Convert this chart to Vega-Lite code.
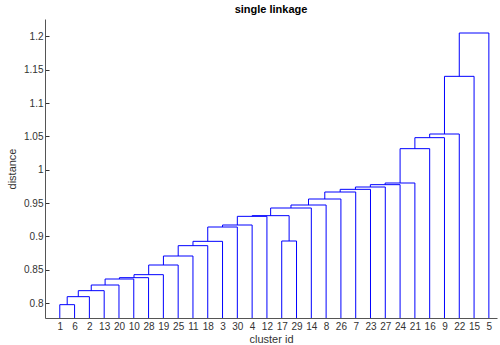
{
  "$schema": "https://vega.github.io/schema/vega-lite/v6.json",
  "autosize": "none",
  "width": 452,
  "height": 299,
  "padding": {"left": 45, "top": 19, "right": 3, "bottom": 27},
  "background": "white",
  "title": {"text": "single linkage", "fontSize": 11, "fontWeight": "bold", "font": "Liberation Sans", "color": "#000000", "offset": 4, "anchor": "middle"},
  "config": {"view": {"stroke": null}},
  "data": {"values": [
    {"node": "A", "xl": 1, "xr": 2, "h": 0.7975, "hl": 0.7, "hr": 0.7},
    {"node": "B", "xl": 1.5, "xr": 3, "h": 0.8095, "hl": 0.7975, "hr": 0.7},
    {"node": "C", "xl": 2.25, "xr": 4, "h": 0.8185, "hl": 0.8095, "hr": 0.7},
    {"node": "D", "xl": 3.125, "xr": 5, "h": 0.827, "hl": 0.8185, "hr": 0.7},
    {"node": "E", "xl": 4.0625, "xr": 6, "h": 0.836, "hl": 0.827, "hr": 0.7},
    {"node": "F", "xl": 5.03, "xr": 7, "h": 0.838, "hl": 0.836, "hr": 0.7},
    {"node": "G", "xl": 6.016, "xr": 8, "h": 0.8425, "hl": 0.838, "hr": 0.7},
    {"node": "H", "xl": 7.008, "xr": 9, "h": 0.857, "hl": 0.8425, "hr": 0.7},
    {"node": "I", "xl": 8.004, "xr": 10, "h": 0.8705, "hl": 0.857, "hr": 0.7},
    {"node": "J", "xl": 9.002, "xr": 11, "h": 0.886, "hl": 0.8705, "hr": 0.7},
    {"node": "K", "xl": 10.001, "xr": 12, "h": 0.8925, "hl": 0.886, "hr": 0.7},
    {"node": "L", "xl": 11.0, "xr": 13, "h": 0.914, "hl": 0.8925, "hr": 0.7},
    {"node": "M", "xl": 12.0, "xr": 14, "h": 0.917, "hl": 0.914, "hr": 0.7},
    {"node": "N", "xl": 13.0, "xr": 15, "h": 0.930, "hl": 0.917, "hr": 0.7},
    {"node": "P", "xl": 16, "xr": 17, "h": 0.893, "hl": 0.7, "hr": 0.7},
    {"node": "Q", "xl": 14.0, "xr": 16.5, "h": 0.931, "hl": 0.930, "hr": 0.893},
    {"node": "R", "xl": 15.25, "xr": 18, "h": 0.9425, "hl": 0.931, "hr": 0.7},
    {"node": "S", "xl": 16.625, "xr": 19, "h": 0.947, "hl": 0.9425, "hr": 0.7},
    {"node": "T", "xl": 17.81, "xr": 20, "h": 0.956, "hl": 0.947, "hr": 0.7},
    {"node": "U", "xl": 18.91, "xr": 21, "h": 0.9665, "hl": 0.956, "hr": 0.7},
    {"node": "V", "xl": 19.95, "xr": 22, "h": 0.9705, "hl": 0.9665, "hr": 0.7},
    {"node": "W", "xl": 20.98, "xr": 23, "h": 0.974, "hl": 0.9705, "hr": 0.7},
    {"node": "X", "xl": 21.99, "xr": 24, "h": 0.9775, "hl": 0.974, "hr": 0.7},
    {"node": "Y", "xl": 22.99, "xr": 25, "h": 0.980, "hl": 0.9775, "hr": 0.7},
    {"node": "Z1", "xl": 24.0, "xr": 26, "h": 1.0315, "hl": 0.980, "hr": 0.7},
    {"node": "Z2", "xl": 25.0, "xr": 27, "h": 1.048, "hl": 1.0315, "hr": 0.7},
    {"node": "Z3", "xl": 26.0, "xr": 28, "h": 1.0535, "hl": 1.048, "hr": 0.7},
    {"node": "Z4", "xl": 27.0, "xr": 29, "h": 1.14, "hl": 1.0535, "hr": 0.7},
    {"node": "Z5", "xl": 28.0, "xr": 30, "h": 1.205, "hl": 1.14, "hr": 0.7}
  ]},
  "encoding": {
    "x": {
      "field": "xl", "type": "quantitative",
      "scale": {"domain": [0, 30.55], "nice": false, "zero": false},
      "axis": {
        "title": "cluster id",
        "values": [1,2,3,4,5,6,7,8,9,10,11,12,13,14,15,16,17,18,19,20,21,22,23,24,25,26,27,28,29,30],
        "labelExpr": "['1','6','2','13','20','10','28','19','25','11','18','3','30','4','12','17','29','14','8','26','7','23','27','24','21','16','9','22','15','5'][datum.value - 1]",
        "ticks": false,
        "grid": false,
        "domainColor": "#555555",
        "labelColor": "#333333",
        "labelFont": "Liberation Sans",
        "labelFontSize": 10,
        "labelPadding": 3,
        "labelOverlap": false,
        "titleFont": "Liberation Sans",
        "titleFontSize": 11,
        "titleFontWeight": "normal",
        "titleColor": "#333333",
        "titlePadding": 2
      }
    },
    "y": {
      "field": "h", "type": "quantitative",
      "scale": {"domain": [0.7775, 1.226], "nice": false, "zero": false},
      "axis": {
        "title": "distance",
        "values": [0.8, 0.85, 0.9, 0.95, 1.0, 1.05, 1.1, 1.15, 1.2],
        "format": ".3~g",
        "grid": false,
        "tickSize": -4,
        "tickColor": "#333333",
        "domainColor": "#555555",
        "labelColor": "#333333",
        "labelFont": "Liberation Sans",
        "labelFontSize": 10,
        "labelPadding": 6,
        "titleFont": "Liberation Sans",
        "titleFontSize": 11,
        "titleFontWeight": "normal",
        "titleColor": "#333333",
        "titlePadding": 6
      }
    }
  },
  "layer": [
    {
      "mark": {"type": "rule", "color": "#0000ff", "strokeWidth": 1, "clip": true},
      "encoding": {"x2": {"field": "xr"}}
    },
    {
      "mark": {"type": "rule", "color": "#0000ff", "strokeWidth": 1, "clip": true},
      "encoding": {"y": {"field": "hl", "type": "quantitative"}, "y2": {"field": "h"}}
    },
    {
      "mark": {"type": "rule", "color": "#0000ff", "strokeWidth": 1, "clip": true},
      "encoding": {"x": {"field": "xr", "type": "quantitative"}, "y": {"field": "hr", "type": "quantitative"}, "y2": {"field": "h"}}
    }
  ]
}
